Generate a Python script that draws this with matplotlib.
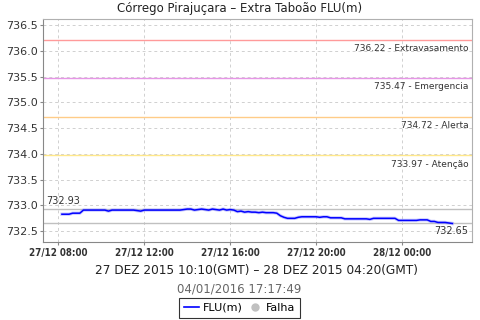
import matplotlib
matplotlib.use("Agg")
import matplotlib.pyplot as plt
import matplotlib.dates as mdates
import matplotlib.ticker as mticker
from matplotlib.lines import Line2D
from datetime import datetime, timedelta

title = "Córrego Pirajuçara \u2013 Extra Taboão FLU(m)"
subtitle = "27 DEZ 2015 10:10(GMT) \u2013 28 DEZ 2015 04:20(GMT)"
stamp = "04/01/2016 17:17:49"

start_time = datetime(2015, 12, 27, 8, 10)
step_minutes = 10
levels = [
    732.83, 732.83, 732.83, 732.85, 732.85, 732.85, 732.91, 732.91, 732.91, 732.91,
    732.91, 732.91, 732.91, 732.89, 732.91, 732.91, 732.91, 732.91, 732.91, 732.91,
    732.91, 732.90, 732.89, 732.91, 732.91, 732.91, 732.91, 732.91, 732.91, 732.91,
    732.91, 732.91, 732.91, 732.91, 732.92, 732.93, 732.93, 732.91, 732.92, 732.93,
    732.92, 732.91, 732.93, 732.92, 732.91, 732.93, 732.91, 732.92, 732.91, 732.88,
    732.89, 732.87, 732.88, 732.87, 732.87, 732.86, 732.87, 732.86, 732.86, 732.86,
    732.85, 732.80, 732.77, 732.75, 732.75, 732.75, 732.77, 732.78, 732.78, 732.78,
    732.78, 732.78, 732.77, 732.78, 732.78, 732.76, 732.76, 732.76, 732.76, 732.74,
    732.74, 732.74, 732.74, 732.74, 732.74, 732.74, 732.73, 732.75, 732.75, 732.75,
    732.75, 732.75, 732.75, 732.75, 732.71, 732.71, 732.71, 732.71, 732.71, 732.71,
    732.72, 732.72, 732.72, 732.69, 732.69, 732.67, 732.67, 732.67, 732.66, 732.65,
]
times = [start_time + timedelta(minutes=step_minutes * i) for i in range(len(levels))]

threshold_values = [736.22, 735.47, 734.72, 733.97]
threshold_names = ["Extravasamento", "Emergencia", "Alerta", "Atenção"]
threshold_colors = ["#ff9a9a", "#e696e6", "#ffcc88", "#ffe88a"]

x_ticks = [datetime(2015, 12, 27, 8), datetime(2015, 12, 27, 12), datetime(2015, 12, 27, 16),
           datetime(2015, 12, 27, 20), datetime(2015, 12, 28, 0)]
y_ticks = [732.5, 733.0, 733.5, 734.0, 734.5, 735.0, 735.5, 736.0, 736.5]

fig = plt.figure(figsize=(4.8, 3.2), dpi=100)
ax = fig.add_axes([0.0902, 0.2453, 0.8931, 0.6953])

x_min = datetime(2015, 12, 27, 7, 18)
x_max = datetime(2015, 12, 28, 3, 15)
ax.set_xlim(x_min, x_max)
ax.set_ylim(732.30, 736.62)

ax.set_xticks(x_ticks)
ax.xaxis.set_major_formatter(mdates.DateFormatter("%d/%m %H:%M"))
ax.set_yticks(y_ticks)
ax.yaxis.set_major_formatter(mticker.FormatStrFormatter("%.1f"))
ax.grid(True, color="#d0d0d0", linestyle=(0, (3, 3)), linewidth=0.7)
ax.set_axisbelow(True)

for lab in ax.get_xticklabels():
    lab.set_fontsize(7)
    lab.set_fontweight("bold")
    lab.set_fontstretch("condensed")
    lab.set_color("#333333")
for lab in ax.get_yticklabels():
    lab.set_fontsize(8)
    lab.set_color("#333333")
ax.tick_params(axis="both", length=2, color="#888888", pad=2)
ax.tick_params(axis="x", pad=3)

for sp in ["top", "right"]:
    ax.spines[sp].set_color("#b0b0b0")
for sp in ["left", "bottom"]:
    ax.spines[sp].set_color("#888888")

for v, name, c in zip(threshold_values, threshold_names, threshold_colors):
    ax.axhline(v, color=c, linewidth=1.0, zorder=2)
    ax.annotate(f"{v:.2f} - {name}", xy=(1, v), xycoords=("axes fraction", "data"),
                xytext=(-2.5, -3), textcoords="offset points", ha="right", va="top",
                fontsize=6.5, color="#333333")

vmax = max(levels)
vmin = min(levels)
ax.axhline(vmax, color="#c0c0c0", linewidth=1.0, zorder=2)
ax.axhline(vmin, color="#c0c0c0", linewidth=1.0, zorder=2)
ax.annotate(f"{vmax:.2f}", xy=(0, vmax), xycoords=("axes fraction", "data"),
            xytext=(2, 2), textcoords="offset points", ha="left", va="bottom",
            fontsize=7, color="#333333")
ax.annotate(f"{vmin:.2f}", xy=(1, vmin), xycoords=("axes fraction", "data"),
            xytext=(-2.5, -2), textcoords="offset points", ha="right", va="top",
            fontsize=7, color="#333333")

ax.plot(times, levels, color="#8888ff", linewidth=2.4, alpha=0.45, zorder=3)
ax.plot(times, levels, color="#0000ff", linewidth=1.1, zorder=4)

fig.text(0.5, 0.972, title, ha="center", va="center", fontsize=8.5, color="#222222")
fig.text(0.535, 0.156, subtitle, ha="center", va="center", fontsize=8.7, color="#222222")
fig.text(0.498, 0.097, stamp, ha="center", va="center", fontsize=8.5, color="#666666")

handles = [Line2D([0], [0], color="#0000ff", linewidth=1.2),
           Line2D([0], [0], color="#c0c0c0", marker="o", linestyle="None", markersize=5)]
leg = fig.legend(handles, ["FLU(m)", "Falha"], loc="center", bbox_to_anchor=(0.499, 0.038),
                 ncol=2, fontsize=8, frameon=True, fancybox=False, handlelength=1.4,
                 handletextpad=0.3, columnspacing=0.4, borderpad=0.45, borderaxespad=0)
leg.get_frame().set_edgecolor("#000000")
leg.get_frame().set_linewidth(0.8)

fig.savefig("out.png", dpi=100)
